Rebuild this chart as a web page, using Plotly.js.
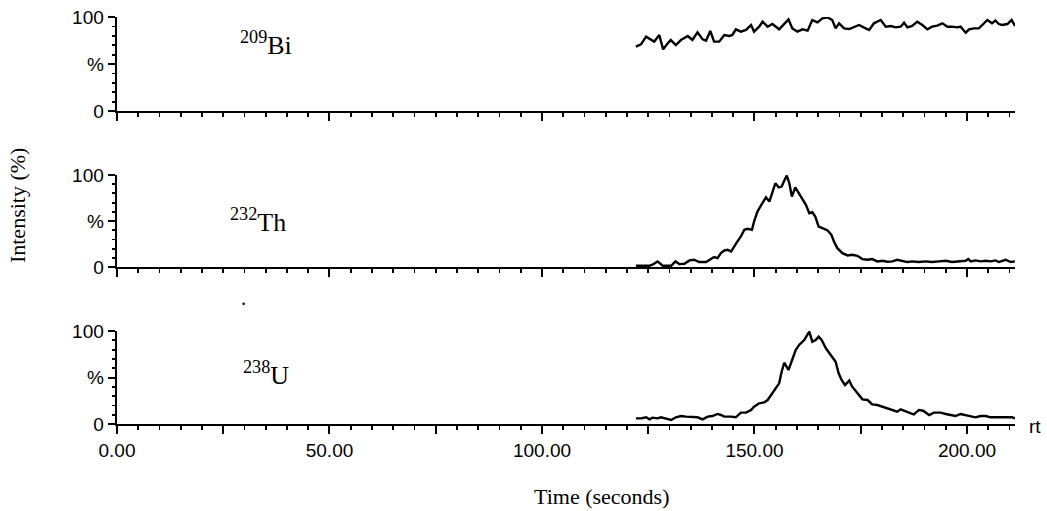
<!DOCTYPE html>
<html>
<head>
<meta charset="utf-8">
<script src="https://cdn.plot.ly/plotly-3.0.1.min.js"></script>
<style>html,body{margin:0;padding:0;background:#fff;}#chart{width:1047px;height:511px;}</style>
</head>
<body>
<div id="chart"></div>
<script>
// ---- data (time in seconds, intensity in %) ----
var biTime = [122.1,123.3,124.5,125.6,126.4,127.6,128.5,129.6,130.3,131.5,132.7,134.3,135.4,136.6,137.8,138.6,139.6,140.5,141.7,142.9,144.1,144.8,145.6,146.8,148.0,149.2,149.9,151.1,151.9,153.1,154.2,155.8,157.0,158.0,158.9,160.1,161.3,162.5,163.6,164.8,166.0,167.2,168.3,169.1,169.9,171.1,172.3,173.4,174.6,175.8,177.0,178.1,179.7,180.9,182.1,183.2,184.4,185.2,186.0,187.1,188.3,189.5,190.7,191.8,193.0,194.2,195.4,196.5,197.7,198.5,199.7,200.5,201.6,202.8,204.0,204.8,205.9,206.7,207.5,208.3,209.5,210.5,211.3];
var biVals = [68.4,70.9,79.1,75.5,73.8,80.9,65.6,72.0,75.5,70.2,75.5,79.8,75.5,83.7,76.2,74.8,85.1,73.8,73.8,80.9,79.8,80.9,86.9,84.4,86.2,91.5,84.4,89.7,95.0,89.7,92.5,86.9,93.3,97.5,87.9,84.4,86.9,85.5,96.8,94.3,98.6,99.6,96.8,87.9,93.3,87.9,87.2,89.0,91.5,88.7,86.2,93.3,96.8,89.7,90.4,89.0,89.7,94.0,89.0,90.4,95.0,91.5,86.9,89.7,90.8,93.3,89.7,89.7,89.0,89.7,83.3,86.9,87.9,87.9,93.3,96.8,93.3,96.1,92.5,91.5,92.5,96.8,90.4];

var thTime = [122.1,125.3,126.0,127.2,128.4,130.4,131.4,132.3,133.5,134.7,135.8,137.0,138.6,139.8,140.5,141.3,142.1,142.9,143.7,144.5,145.2,146.0,146.8,147.6,148.4,149.4,149.9,150.7,151.7,152.7,153.5,154.2,154.9,155.7,156.4,157.0,157.6,158.2,158.8,159.6,160.4,161.3,162.1,162.9,163.6,164.3,165.1,166.0,167.2,168.1,168.7,169.5,170.7,171.9,173.0,174.2,175.4,176.6,177.7,178.9,180.1,181.3,182.4,183.6,184.8,186.0,187.1,188.7,190.3,191.8,193.4,195.0,196.5,198.1,199.7,200.3,200.9,202.0,203.2,204.4,205.6,206.7,207.5,208.3,209.1,210.3,211.3];
var thVals = [1.4,1.4,2.5,6.1,1.4,1.4,6.1,3.2,3.6,7.2,7.9,5.4,5.4,8.6,10.8,9.7,15.1,18.0,18.7,16.9,22.4,27.8,33.2,40.4,41.5,40.4,49.4,60.3,68.2,75.8,71.1,81.9,91.0,86.6,87.4,93.8,99.3,91.0,76.5,86.6,80.1,73.6,67.5,58.5,59.5,54.9,44.0,42.2,39.7,35.0,27.8,20.5,15.1,12.6,13.3,12.2,8.6,7.9,8.6,6.1,6.8,5.7,6.1,7.9,6.8,5.4,6.1,5.4,6.1,5.4,6.1,6.8,5.4,6.1,6.8,8.6,6.1,7.2,6.1,6.8,6.1,7.2,5.4,6.8,7.9,5.4,6.1];

var uTime = [122.1,123.3,124.5,125.3,126.0,127.2,128.0,129.2,130.4,131.5,132.7,133.9,135.4,136.6,137.8,139.0,140.1,141.3,142.1,142.9,144.5,145.6,146.8,148.0,149.2,149.9,151.1,152.3,153.1,153.9,155.0,155.8,156.4,157.0,158.0,158.8,159.7,160.5,161.7,162.5,162.9,163.6,164.4,165.1,165.8,166.8,167.9,169.1,169.8,170.5,171.3,172.3,173.0,174.2,175.4,176.6,177.7,178.9,180.1,181.3,182.4,183.6,184.4,185.6,186.8,187.5,188.7,189.7,191.1,192.2,193.8,195.0,196.2,197.3,198.5,199.7,200.9,202.0,203.2,204.4,205.6,206.7,208.3,209.5,210.6,211.3];
var uVals = [6.1,6.1,7.2,5.0,6.8,6.1,7.2,6.1,4.3,7.2,8.6,7.9,7.9,7.2,5.0,7.9,8.6,10.8,9.7,7.9,7.9,7.2,12.2,12.2,15.1,18.6,22.2,23.3,25.8,31.2,38.4,43.7,56.3,65.9,58.1,68.8,79.6,85.0,90.3,96.4,99.3,88.5,90.3,93.9,90.3,81.4,74.2,67.0,54.5,47.3,41.9,46.6,40.1,33.0,26.5,25.8,21.1,20.4,18.6,16.9,15.1,13.3,15.8,13.3,11.5,10.4,15.1,14.3,9.7,12.2,12.2,10.8,9.7,8.6,10.8,9.7,8.6,7.2,8.6,8.6,7.2,7.2,7.2,7.2,7.2,6.1];

var panelLabels = ['<sup>209</sup>Bi', '<sup>232</sup>Th', '<sup>238</sup>U'];
var xTickVals = [0,25,50,75,100,125,150,175,200];
var xTickText = ['0.00','','50.00','','100.00','','150.00','','200.00'];
var yTickVals = [0,50,100];
var yTickText = ['0','%','100'];
var xTitle = 'Time (seconds)';
var yTitle = 'Intensity (%)';
var rtLabel = 'rt';

// ---- chart ----
var lineStyle = {color:'#000', width:2.4};
var traces = [
  {x: biTime, y: biVals, xaxis:'x', yaxis:'y', type:'scatter', mode:'lines', line: lineStyle, hoverinfo:'skip'},
  {x: thTime, y: thVals, xaxis:'x2', yaxis:'y2', type:'scatter', mode:'lines', line: lineStyle, hoverinfo:'skip'},
  {x: uTime, y: uVals, xaxis:'x3', yaxis:'y3', type:'scatter', mode:'lines', line: lineStyle, hoverinfo:'skip'}
];

var tickFont = {family:'Liberation Sans, Arial, sans-serif', size:19, color:'#000'};

function xAxis(anchor, showLabels){
  return {
    anchor: anchor, range:[0,211.3], showgrid:false, zeroline:false,
    showline:true, linecolor:'#000', linewidth:2.4,
    tickmode:'array', tickvals:xTickVals, ticktext:xTickText, showticklabels: showLabels,
    ticks:'outside', ticklen:8, tickwidth:2, tickcolor:'#000',
    minor:{dtick:5, tick0:0, ticks:'outside', ticklen:4, tickwidth:1.8, tickcolor:'#000', showgrid:false},
    tickfont: tickFont, fixedrange:true
  };
}
function yAxis(anchor, domain){
  return {
    anchor: anchor, domain: domain, range:[0,100], showgrid:false, zeroline:false,
    showline:true, linecolor:'#000', linewidth:2.4,
    tickmode:'array', tickvals:yTickVals, ticktext:yTickText,
    ticks:'outside', ticklen:7, tickwidth:2, tickcolor:'#000',
    minor:{dtick:10, tick0:0, ticks:'outside', ticklen:3, tickwidth:1.8, tickcolor:'#000', showgrid:false},
    tickfont: tickFont, fixedrange:true
  };
}

var serif = 'Liberation Serif, Times New Roman, serif';
var layout = {
  width:1047, height:511,
  margin:{l:117, r:32, t:17, b:87},
  paper_bgcolor:'#fff', plot_bgcolor:'#fff',
  showlegend:false,
  xaxis: xAxis('y', false),
  yaxis: yAxis('x', [0.769, 1]),
  xaxis2: xAxis('y2', false),
  yaxis2: yAxis('x2', [0.3857, 0.6118]),
  xaxis3: xAxis('y3', true),
  yaxis3: yAxis('x3', [0, 0.2285]),
  annotations: [
    {text: panelLabels[0], xref:'paper', yref:'paper', x:0.135, y:0.936, xanchor:'left', yanchor:'middle', showarrow:false, font:{family:serif, size:26, color:'#000'}},
    {text: panelLabels[1], xref:'paper', yref:'paper', x:0.124, y:0.499, xanchor:'left', yanchor:'middle', showarrow:false, font:{family:serif, size:26, color:'#000'}},
    {text: panelLabels[2], xref:'paper', yref:'paper', x:0.138, y:0.123, xanchor:'left', yanchor:'middle', showarrow:false, font:{family:serif, size:26, color:'#000'}},
    {text: xTitle, xref:'paper', yref:'paper', x:0.539, y:-0.177, xanchor:'center', yanchor:'middle', showarrow:false, font:{family:serif, size:22, color:'#000'}},
    {text: yTitle, xref:'paper', yref:'paper', x:-0.110, y:0.536, xanchor:'center', yanchor:'middle', textangle:-90, showarrow:false, font:{family:serif, size:22, color:'#000'}},
    {text: rtLabel, xref:'paper', yref:'paper', x:1.0135, y:-0.007, xanchor:'left', yanchor:'middle', showarrow:false, font:{family:'Liberation Sans, Arial, sans-serif', size:19, color:'#000'}},
    {text: '•', xref:'paper', yref:'paper', x:0.1414, y:0.295, xanchor:'center', yanchor:'middle', showarrow:false, font:{family:'Liberation Sans, Arial, sans-serif', size:9, color:'#000'}}
  ]
};

Plotly.newPlot('chart', traces, layout, {displayModeBar:false, staticPlot:true});
</script>
</body>
</html>
